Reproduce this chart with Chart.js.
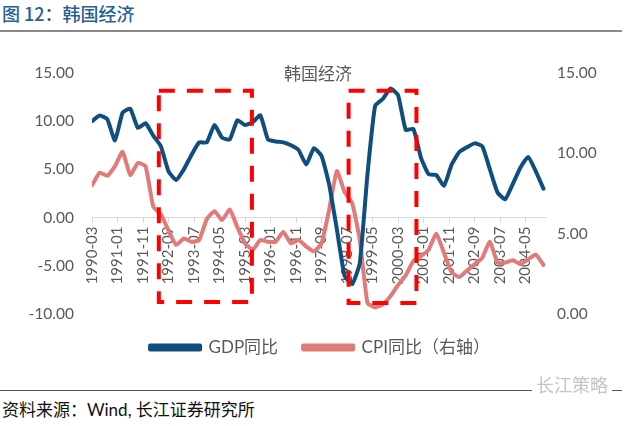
<!DOCTYPE html>
<html><head><meta charset="utf-8">
<script src="https://cdn.jsdelivr.net/npm/chart.js@4"></script>
<style>
html,body{margin:0;padding:0;background:#fff;}
body{width:640px;height:426px;position:relative;overflow:hidden;font-family:Lato,'Noto Sans CJK SC',sans-serif;}
#hdr{position:absolute;left:2px;top:1px;font-size:18px;color:#2a5f94;font-family:'Noto Sans CJK SC',sans-serif;font-weight:500;line-height:24px;}
#hdrline{position:absolute;left:0;top:30px;width:622px;height:2px;background:#8a8a8a;}
#wrap{position:absolute;left:0;top:40px;width:640px;height:332px;}
#ctitle{position:absolute;left:0;width:636px;top:62px;text-align:center;font-size:17px;color:#595959;font-family:'Noto Sans CJK SC',sans-serif;line-height:22px;}
#ftline{position:absolute;left:0;top:390px;width:622px;height:1px;background:#555;}
#src{position:absolute;left:2px;top:399px;font-size:17px;color:#111;font-family:Lato,'Noto Sans CJK SC',sans-serif;line-height:22px;}
#wm{position:absolute;left:532px;top:373px;font-size:18px;color:#c4c4c4;font-family:'Noto Sans CJK SC',sans-serif;background:#fff;padding:0 4px;line-height:22px;}
</style></head>
<body>
<div id="hdr">图 12：韩国经济</div>
<div id="hdrline"></div>
<div id="wrap"><canvas id="c"></canvas></div>
<div id="ctitle">韩国经济</div>
<div id="ftline"></div>
<div id="wm">长江策略</div>
<div id="src">资料来源：Wind, 长江证券研究所</div>
<script>
// quarterly periods
const categories = [
 "1990-03","1990-06","1990-09","1990-12","1991-03","1991-06","1991-09","1991-12",
 "1992-03","1992-06","1992-09","1992-12","1993-03","1993-06","1993-09","1993-12",
 "1994-03","1994-06","1994-09","1994-12","1995-03","1995-06","1995-09","1995-12",
 "1996-03","1996-06","1996-09","1996-12","1997-03","1997-06","1997-09","1997-12",
 "1998-03","1998-06","1998-09","1998-12","1999-03","1999-06","1999-09","1999-12",
 "2000-03","2000-06","2000-09","2000-12","2001-03","2001-06","2001-09","2001-12",
 "2002-03","2002-06","2002-09","2002-12","2003-03","2003-06","2003-09","2003-12",
 "2004-03","2004-06","2004-09","2004-12"
];
// GDP YoY (left axis, %)
const gdpYoY = [
 10.0,10.6,10.2,8.0,10.9,11.3,9.3,9.8,
 8.5,7.4,4.8,3.9,5.0,6.5,7.8,7.8,
 9.6,8.3,8.1,10.1,9.6,9.9,10.6,8.1,
 7.9,7.8,7.5,7.0,5.5,7.2,6.4,3.4,
 -1.2,-6.0,-6.9,-4.7,4.5,11.6,12.3,13.4,
 12.7,9.1,9.2,6.2,4.5,4.4,3.3,5.5,
 6.8,7.3,7.7,7.4,5.0,2.6,1.9,3.5,
 5.2,6.3,4.8,3.0
];
// CPI YoY (right axis, %)
const cpiYoY = [
 8.0,8.8,8.6,9.2,10.1,8.65,9.4,9.2,
 6.7,6.2,5.2,4.3,4.7,4.5,4.6,5.9,
 6.4,5.85,6.5,5.4,4.4,4.0,4.6,4.5,
 4.5,5.1,4.4,4.6,4.2,3.9,4.4,6.5,
 8.9,7.6,6.9,4.6,0.7,0.4,0.6,1.1,
 1.8,2.4,3.3,3.6,4.0,5.0,3.8,2.6,
 2.3,2.7,3.1,3.5,4.5,3.2,3.2,3.35,
 3.1,3.4,3.7,3.05
];
// x tick labels (every 10 months from 1990-03)
const xTickLabels = ["1990-03","1991-01","1991-11","1992-09","1993-07","1994-05","1995-03","1996-01","1996-11","1997-09","1998-07","1999-05","2000-03","2001-01","2001-11","2002-09","2003-07","2004-05"];
const leftTicks = [-10,-5,0,5,10,15];
const rightTicks = [0,5,10,15];
const seriesNames = ["GDP同比","CPI同比（右轴）"];

// highlighted periods (month offsets from 1990-03, left-axis values)
const highlightBoxes = [
 {xMin:26.2, xMax:62.7, yMin:-8.75, yMax:13.15},
 {xMin:100.6, xMax:127.2, yMin:-8.85, yMax:13.15}
];

function monthIndex(s){const [y,m]=s.split('-').map(Number);return (y-1990)*12+m-3;}
const gdpPts = categories.map((c,i)=>({x:monthIndex(c),y:gdpYoY[i]}));
const cpiPts = categories.map((c,i)=>({x:monthIndex(c),y:cpiYoY[i]}));

const boxPlugin = {
 id:'boxes',
 afterDatasetsDraw(chart){
  const {ctx,scales:{x,y}}=chart;
  ctx.save();
  ctx.strokeStyle='#ff0000';ctx.lineWidth=4;ctx.setLineDash([16,12]);
  highlightBoxes.forEach(b=>{
   const l=x.getPixelForValue(b.xMin),r=x.getPixelForValue(b.xMax);
   const t=y.getPixelForValue(b.yMax),bt=y.getPixelForValue(b.yMin);
   ctx.strokeRect(l,t,r-l,bt-t);
  });
  ctx.restore();
 }
};

const grey='#595959';
new Chart(document.getElementById('c'),{
 type:'line',
 data:{datasets:[
  {label:seriesNames[0],data:gdpPts,yAxisID:'y',borderColor:'#0f4e7e',backgroundColor:'#0f4e7e',borderWidth:4,pointRadius:0,tension:0.15,borderJoinStyle:'round',borderCapStyle:'round'},
  {label:seriesNames[1],data:cpiPts,yAxisID:'y1',borderColor:'#e27a7a',backgroundColor:'#e27a7a',borderWidth:4,pointRadius:0,tension:0.15,borderJoinStyle:'round',borderCapStyle:'round'}
 ]},
 options:{
  responsive:true,maintainAspectRatio:false,animation:false,
  layout:{padding:{top:33,bottom:6,left:0,right:0}},
  plugins:{
   legend:{position:'bottom',labels:{boxWidth:50,boxHeight:4,padding:25,color:grey,font:{size:17,family:"Lato,'Noto Sans CJK SC',sans-serif"}}},
   tooltip:{enabled:false}
  },
  scales:{
   x:{type:'linear',min:0,max:178,position:{y:0},
    afterBuildTicks(s){s.ticks=xTickLabels.map((_,i)=>({value:i*10}));},
    ticks:{callback:(v)=>xTickLabels[Math.round(v/10)],autoSkip:false,minRotation:90,maxRotation:90,padding:4,color:grey,font:{size:15,family:"Lato,sans-serif"}},
    grid:{drawOnChartArea:false,drawTicks:true,tickLength:5,color:'#d9d9d9'},
    border:{display:true,color:'#d9d9d9',width:1}
   },
   y:{position:'left',min:-10,max:15,
    afterBuildTicks(s){s.ticks=leftTicks.map(v=>({value:v}));},
    afterFit(s){s.width=92;},
    ticks:{callback:v=>v.toFixed(2),padding:18,color:grey,font:{size:15.5,family:"Lato,sans-serif"}},
    grid:{display:false,drawTicks:false},border:{display:false}
   },
   y1:{position:'right',min:0,max:15,
    afterBuildTicks(s){s.ticks=rightTicks.map(v=>({value:v}));},
    afterFit(s){s.width=94;},
    ticks:{callback:v=>v.toFixed(2),padding:11,color:grey,font:{size:15.5,family:"Lato,sans-serif"}},
    grid:{display:false,drawTicks:false},border:{display:false}
   }
  }
 },
 plugins:[boxPlugin]
});
</script>
</body></html>
